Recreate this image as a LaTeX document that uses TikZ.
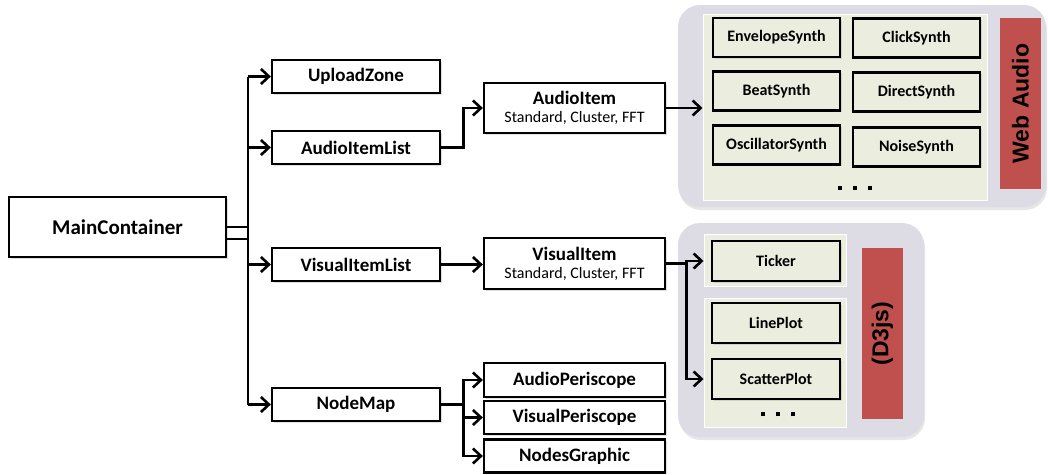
\documentclass[tikz,border=0pt]{standalone}
\usepackage{fontspec}
\setmainfont{Carlito}
\newfontfamily\arialfont{Liberation Sans}
\usetikzlibrary{arrows.meta,shadows}
\definecolor{panelgray}{HTML}{DDDBE4}
\definecolor{innergreen}{HTML}{EBEEDE}
\definecolor{barred}{HTML}{C0504D}
\newcommand\subtxtfont{\mdseries\fontsize{16}{18}\selectfont}
\newcommand\sqdots{\rule{4.5pt}{4.5pt}\hspace{10.5pt}\rule{4.5pt}{4.5pt}\hspace{10.5pt}\rule{4.5pt}{4.5pt}}
\tikzset{
  box/.style={draw=black, line width=2.3pt, fill=white, inner sep=0pt, align=center,
    font=\bfseries\fontsize{19}{21}\selectfont,
    drop shadow={opacity=0.25, shadow xshift=1.5pt, shadow yshift=-1.5pt}},
  synth/.style={box, fill=innergreen, font=\bfseries\fontsize{16}{18}\selectfont},
  conn/.style={line width=2.8pt},
  arr/.style={conn, -{Straight Barb[length=8pt,width=15pt,line width=2.6pt]}},
  panel/.style={fill=panelgray, draw=none, rounded corners=22pt, inner sep=0pt,
    drop shadow={opacity=0.2, shadow xshift=1pt, shadow yshift=-3pt}},
  innerpanel/.style={fill=innergreen, draw=white, line width=1pt, inner sep=0pt},
  redbar/.style={fill=barred, draw=none, inner sep=0pt},
  bartext/.style={rotate=90, font=\arialfont\bfseries\fontsize{23}{25}\selectfont},
  dots/.style={inner sep=0pt}
}
\begin{document}
\begin{tikzpicture}[x=1pt,y=-1pt]
\useasboundingbox (0,0) rectangle (1048,474);
% ---------- panels ----------
\node[panel, minimum width=368, minimum height=202] (wapanel) at (862,106) {};
\node[innerpanel, minimum width=284, minimum height=186] (wainner) at (845,107) {};
\node[redbar, minimum width=41, minimum height=171] (wabar) at (1020.5,103.5) {};
\node[bartext] (watext) at (wabar.center) {Web Audio};

\node[panel, minimum width=246, minimum height=214] (d3panel) at (801,330) {};
\node[innerpanel, minimum width=142, minimum height=52] (tickin) at (775,260) {};
\node[innerpanel, minimum width=142, minimum height=129] (plotin) at (775,362.5) {};
\node[redbar, minimum width=41, minimum height=171] (d3bar) at (882.5,333.5) {};
\node[bartext] (d3text) at (d3bar.center) {(D3js)};

% ---------- main boxes ----------
\node[box, minimum width=217, minimum height=60, font=\bfseries\fontsize{21}{23}\selectfont] (main) at (117.5,227) {MainContainer};
\node[box, minimum width=168, minimum height=33] (upload) at (356,76.5) {UploadZone};
\node[box, minimum width=168, minimum height=33] (ail) at (356,147.5) {AudioItemList};
\node[box, minimum width=168, minimum height=33] (vil) at (356,264.5) {VisualItemList};
\node[box, minimum width=168, minimum height=33] (nodemap) at (356,404.5) {NodeMap};

\node[box, minimum width=181, minimum height=50] (audioitem) at (574.5,108)
  {AudioItem\\[-3pt]{\subtxtfont Standard, Cluster, FFT}};
\node[box, minimum width=181, minimum height=51] (visualitem) at (574.5,263.5)
  {VisualItem\\[-3pt]{\subtxtfont Standard, Cluster, FFT}};

\node[box, minimum width=181, minimum height=34] (ap) at (574.5,380) {AudioPeriscope};
\node[box, minimum width=181, minimum height=33] (vp) at (574.5,417.5) {VisualPeriscope};
\node[box, minimum width=181, minimum height=33] (ng) at (574.5,456) {NodesGraphic};

% ---------- synths ----------
\node[synth, minimum width=127, minimum height=39] (env) at (776.5,37.5) {EnvelopeSynth};
\node[synth, minimum width=127, minimum height=39] (click) at (916.5,38) {ClickSynth};
\node[synth, minimum width=127, minimum height=39] (beat) at (776.5,91) {BeatSynth};
\node[synth, minimum width=127, minimum height=39] (direct) at (916.5,92) {DirectSynth};
\node[synth, minimum width=127, minimum height=39] (osc) at (776.5,145) {OscillatorSynth};
\node[synth, minimum width=127, minimum height=39] (noise) at (916.5,147) {NoiseSynth};
\node[dots] (wadots) at (855,188) {\sqdots};

% ---------- d3 items ----------
\node[synth, minimum width=128, minimum height=40] (ticker) at (776,261) {Ticker};
\node[synth, minimum width=128, minimum height=40] (lineplot) at (776,323) {LinePlot};
\node[synth, minimum width=128, minimum height=40] (scatter) at (776,379) {ScatterPlot};
\node[dots] (d3dots) at (778,414) {\sqdots};

% ---------- connectors ----------
\coordinate (bus) at (248,0);
\draw[conn] (main.east) -- (bus |- main.east);
\draw[conn] ([yshift=-12pt]main.east) -- ++(22,0);
\draw[conn] (bus |- upload.west) -- (bus |- nodemap.west);
\draw[arr] (bus |- upload.west) -- (upload.west);
\draw[arr] (bus |- ail.west) -- (ail.west);
\draw[arr] (bus |- vil.west) -- (vil.west);
\draw[arr] (bus |- nodemap.west) -- (nodemap.west);

\draw[arr] (ail.east) -- ++(22,0) |- (audioitem.west);
\draw[arr] (audioitem.east) -- (wainner.west |- audioitem.east);

\draw[arr] (vil.east) -- (visualitem.west |- vil.east);
\draw[conn] (visualitem.east) -- ++(20,0) coordinate (vb);
\draw[arr] (vb) |- (tickin.west |- ticker.west);
\draw[arr] (vb) |- (plotin.west |- scatter.west);

\draw[conn] (nodemap.east) -- ++(22,0) coordinate (nb);
\draw[arr] (nb) |- (ap.west);
\draw[arr] (nb) |- (vp.west);
\draw[arr] (nb) |- (ng.west);
\end{tikzpicture}
\end{document}
